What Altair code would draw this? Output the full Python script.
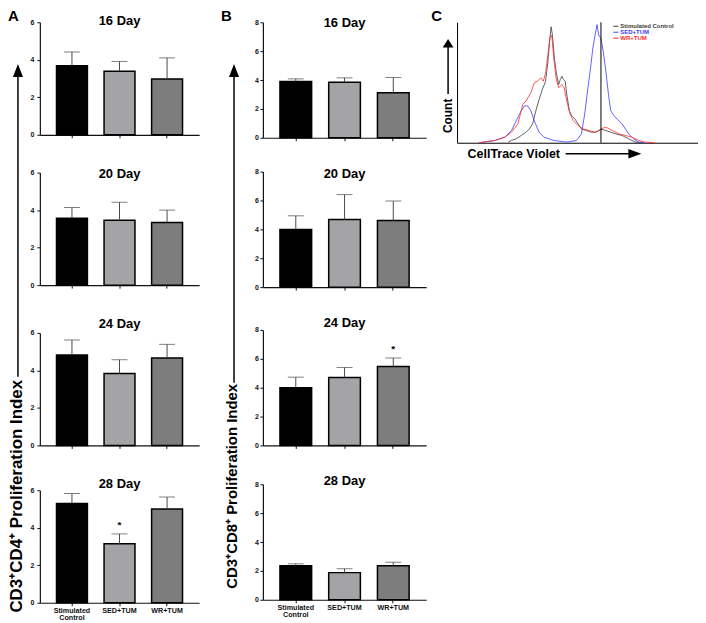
import altair as alt
import pandas as pd

FONT = "Liberation Sans"

groups = ["Stimulated Control", "SED+TUM", "WR+TUM"]
bar_fills = ["#000000", "#a4a4a7", "#7d7d7d"]
day_titles = ["16 Day", "20 Day", "24 Day", "28 Day"]

# Panel A: CD3+CD4+ proliferation index (mean and SEM)
cd4_mean_16 = [3.68, 3.39, 2.98]
cd4_sem_16 = [0.74, 0.52, 1.12]
cd4_mean_20 = [3.57, 3.46, 3.34]
cd4_sem_20 = [0.57, 0.96, 0.66]
cd4_mean_24 = [4.82, 3.83, 4.66]
cd4_sem_24 = [0.80, 0.74, 0.73]
cd4_mean_28 = [5.29, 3.14, 5.00]
cd4_sem_28 = [0.53, 0.53, 0.64]
cd4_star_28 = ["", "*", ""]

# Panel B: CD3+CD8+ proliferation index (mean and SEM)
cd8_mean_16 = [3.90, 3.85, 3.12]
cd8_sem_16 = [0.18, 0.30, 1.05]
cd8_mean_20 = [4.00, 4.68, 4.61]
cd8_sem_20 = [0.94, 1.73, 1.35]
cd8_mean_24 = [4.00, 4.70, 5.47]
cd8_sem_24 = [0.73, 0.70, 0.59]
cd8_mean_28 = [2.36, 1.88, 2.36]
cd8_sem_28 = [0.13, 0.27, 0.24]
cd8_star_24 = ["", "", "*"]
no_star = ["", "", ""]

# Panel C: CellTrace Violet histograms (channel, count)
ctrl_cv = [157, 167, 182, 197, 212, 222, 232, 242, 252, 262, 272, 279, 285, 289, 293, 299, 305, 312, 317, 322,
           327, 332, 337, 345, 352, 362, 372, 382, 397, 412, 427, 442, 457, 472, 487, 507, 527, 547, 567]
ctrl_n = [2, 7, 12, 22, 32, 42, 57, 97, 132, 162, 187, 247, 317, 352, 327, 257, 212, 177, 192, 202,
          192, 187, 147, 97, 82, 72, 57, 42, 37, 32, 32, 42, 37, 32, 27, 22, 12, 2, 0]
sed_cv = [67, 117, 147, 167, 182, 197, 207, 217, 227, 237, 252, 267, 297, 337, 367, 382, 392, 402, 410, 417,
          424, 430, 435, 442, 449, 457, 465, 472, 482, 492, 507, 517, 527, 542, 557, 577]
sed_n = [0, 7, 17, 37, 67, 97, 112, 112, 97, 67, 32, 17, 7, 2, 7, 27, 87, 167, 227, 287,
         327, 359, 327, 317, 277, 217, 147, 97, 82, 72, 57, 42, 27, 12, 2, 0]
wr_cv = [67, 117, 147, 167, 187, 202, 212, 227, 237, 247, 257, 265, 272, 279, 285, 291, 297, 304, 312, 322,
         329, 337, 347, 357, 372, 387, 407, 422, 437, 452, 462, 477, 497, 517, 537, 557, 577, 607]
wr_n = [0, 7, 17, 32, 57, 117, 127, 152, 182, 187, 197, 187, 212, 267, 317, 327, 257, 197, 167, 177,
        167, 127, 87, 67, 52, 42, 37, 32, 37, 47, 45, 37, 27, 22, 17, 7, 2, 0]
gate_cv = [442]
curve_colors = ["#3a3a3a", "#3b3bff", "#ff2b2b"]

UP_HEAD = "M0,-1.2L-0.85,1L0.85,1Z"
UP_HEAD_SMALL = "M0,-0.8L-1,0.8L1,0.8Z"
RIGHT_HEAD = "M1.2,0L-1,-0.8L-1,0.8Z"

one = pd.DataFrame({"k": [0]})


def bar_panel(title, means, sems, stars, ymax, yticks, width, height, show_labels, label_pad, title_y):
    df = pd.DataFrame({"group": groups, "mean": means, "sem": sems, "star": stars})
    df["upper"] = df["mean"] + df["sem"]
    xscale = alt.Scale(domain=groups, paddingInner=0.35, paddingOuter=0.35)
    if show_labels:
        xaxis = alt.Axis(title=None, labelAngle=0, labelFontSize=7.2, labelLineHeight=7, labelPadding=1,
                         labelBaseline="top",
                         labelExpr="datum.value == 'Stimulated Control' ? ['Stimulated', 'Control'] : datum.value")
    else:
        xaxis = alt.Axis(title=None, labels=False)
    yscale = alt.Scale(domain=[0, ymax], nice=False, zero=True)
    yaxis = alt.Axis(title=None, values=yticks, labelPadding=label_pad)

    def X():
        return alt.X("group:N", sort=groups, scale=xscale, axis=xaxis)

    def Y(f):
        return alt.Y(f + ":Q", scale=yscale, axis=yaxis)

    base = alt.Chart(df)
    bars = base.mark_bar(stroke="black", strokeWidth=1.5).encode(
        x=X(), y=Y("mean"),
        fill=alt.Fill("group:N", scale=alt.Scale(domain=groups, range=bar_fills), legend=None))
    err = base.mark_rule(color="#4a4a4a", strokeWidth=1).encode(x=X(), y=Y("mean"), y2="upper:Q")
    cap = base.mark_tick(color="#4a4a4a", thickness=1, size=16).encode(x=X(), y=Y("upper"))
    star = base.mark_text(fontSize=10, fontWeight="bold", dy=-9, baseline="middle").encode(
        x=X(), y=Y("upper"), text="star:N")
    ttl = alt.Chart(one).mark_text(text=title, fontSize=13, fontWeight="bold", baseline="middle",
                                    align="center").encode(x=alt.value(width / 2), y=alt.value(title_y))
    return alt.layer(bars, err, cap, star, ttl).properties(width=width, height=height)


def side_label(letter, text, font_size, width, height, letter_x, text_x, text_y, arrow_x, arrow_y, arrow_bottom):
    base = alt.Chart(one)
    let = base.mark_text(text=letter, fontSize=15, fontWeight="bold", align="left", baseline="top").encode(
        x=alt.value(letter_x), y=alt.value(-13))
    lab = base.mark_text(text=text, angle=270, fontSize=font_size, fontWeight="bold", align="center",
                         baseline="middle").encode(x=alt.value(text_x), y=alt.value(text_y))
    line = base.mark_rule(strokeWidth=1.5, color="black").encode(
        x=alt.value(arrow_x), y=alt.value(arrow_y + 2), y2=alt.value(arrow_bottom))
    head = base.mark_point(shape=UP_HEAD, filled=True, size=140, color="black", opacity=1).encode(
        x=alt.value(arrow_x), y=alt.value(arrow_y))
    return alt.layer(let, lab, line, head).properties(width=width, height=height)


# ---- Panel A column
colA = alt.vconcat(
    bar_panel(day_titles[0], cd4_mean_16, cd4_sem_16, no_star, 6, [0, 2, 4, 6], 160, 113, False, 3, -1.5),
    bar_panel(day_titles[1], cd4_mean_20, cd4_sem_20, no_star, 6, [0, 2, 4, 6], 160, 113, False, 3, 1.3),
    bar_panel(day_titles[2], cd4_mean_24, cd4_sem_24, no_star, 6, [0, 2, 4, 6], 160, 113, False, 3, -8.6),
    bar_panel(day_titles[3], cd4_mean_28, cd4_sem_28, cd4_star_28, 6, [0, 2, 4, 6], 160, 113, True, 3, -6),
    spacing=29,
)

# ---- Panel B column
colB = alt.vconcat(
    bar_panel(day_titles[0], cd8_mean_16, cd8_sem_16, no_star, 8, [0, 2, 4, 6, 8], 164, 116, False, 1.5, 0.5),
    bar_panel(day_titles[1], cd8_mean_20, cd8_sem_20, no_star, 8, [0, 2, 4, 6, 8], 164, 116, False, 1.5, 2),
    bar_panel(day_titles[2], cd8_mean_24, cd8_sem_24, cd8_star_24, 8, [0, 2, 4, 6, 8], 164, 116, False, 1.5, -7),
    bar_panel(day_titles[3], cd8_mean_28, cd8_sem_28, no_star, 8, [0, 2, 4, 6, 8], 164, 116, True, 1.5, -3),
    spacing=26,
)

labelA = side_label("A", "CD3\u207aCD4\u207a Proliferation Index", 17, 22, 560, 0, 9, 476, 10, 49, 356)
labelB = side_label("B", "CD3\u207aCD8\u207a Proliferation Index", 15, 55, 560, 22, 33, 466, 35, 49, 362)

# ---- Panel C
cw, ch = 242, 121
cx = alt.Scale(domain=[0, 740], nice=False, zero=False)
cy = alt.Scale(domain=[0, 366], nice=False)
ax_c = alt.Axis(title=None, labels=False, ticks=False, grid=False, domainColor="black", domainWidth=1)


def curve(xs, ns, color):
    d = pd.DataFrame({"cv": xs, "count": ns})
    return alt.Chart(d).mark_line(color=color, strokeWidth=0.8).encode(
        x=alt.X("cv:Q", scale=cx, axis=ax_c), y=alt.Y("count:Q", scale=cy, axis=ax_c))


gate = alt.Chart(pd.DataFrame({"cv": gate_cv})).mark_rule(color="black", strokeWidth=1).encode(
    x=alt.X("cv:Q", scale=cx, axis=ax_c))

cbase = alt.Chart(one)
legend_layers = []
for i, (name, col) in enumerate(zip(groups, curve_colors)):
    yy = 4 + i * 6
    legend_layers.append(cbase.mark_rule(color=col, strokeWidth=1).encode(
        x=alt.value(157), x2=alt.value(162), y=alt.value(yy)))
    legend_layers.append(cbase.mark_text(text=name, color=col, fontSize=6, fontWeight="bold", align="left",
                                         baseline="middle").encode(x=alt.value(164), y=alt.value(yy)))

c_letter = cbase.mark_text(text="C", fontSize=15, fontWeight="bold", align="left", baseline="top").encode(
    x=alt.value(-26), y=alt.value(-13))
c_hidden = cbase.mark_rule(opacity=0).encode(x=alt.value(-31), y=alt.value(0), y2=alt.value(1))
count_txt = cbase.mark_text(text="Count", angle=270, fontSize=12, fontWeight="bold", align="center",
                            baseline="middle").encode(x=alt.value(-9), y=alt.value(94))
count_line = cbase.mark_rule(strokeWidth=1.5, color="black").encode(
    x=alt.value(-9), y=alt.value(24), y2=alt.value(72))
count_head = cbase.mark_point(shape=UP_HEAD_SMALL, filled=True, size=117, color="black", opacity=1).encode(
    x=alt.value(-9), y=alt.value(21))
ctv_txt = cbase.mark_text(text="CellTrace Violet", fontSize=12.5, fontWeight="bold", align="center",
                          baseline="middle").encode(x=alt.value(57), y=alt.value(132))
ctv_line = cbase.mark_rule(strokeWidth=1.5, color="black").encode(
    x=alt.value(109), x2=alt.value(176), y=alt.value(132))
ctv_head = cbase.mark_point(shape=RIGHT_HEAD, filled=True, size=140, color="black", opacity=1).encode(
    x=alt.value(178), y=alt.value(132))

panelC = alt.layer(
    curve(ctrl_cv, ctrl_n, curve_colors[0]),
    curve(sed_cv, sed_n, curve_colors[1]),
    curve(wr_cv, wr_n, curve_colors[2]),
    gate,
    *legend_layers,
    c_letter, c_hidden, count_txt, count_line, count_head, ctv_txt, ctv_line, ctv_head,
).properties(width=cw, height=ch)

chart = alt.hconcat(labelA, colA, labelB, colB, panelC, spacing=0).properties(
    padding={"left": 0, "top": 0, "right": 0, "bottom": 0}
).configure_view(stroke=None).configure_axis(
    labelFont=FONT, labelFontWeight="bold", labelFontSize=7, labelColor="#111",
    domainColor="#111", domainWidth=1.2, tickColor="#111", tickSize=3, tickWidth=1, grid=False,
).configure_text(font=FONT)

chart.save("out.html", embed_options={"renderer": "svg", "actions": False})
